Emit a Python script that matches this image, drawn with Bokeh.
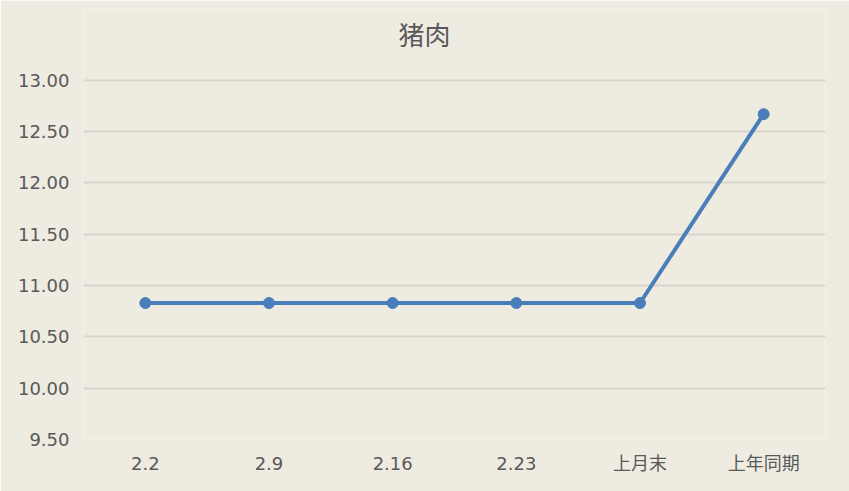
from bokeh.plotting import figure
from bokeh.models import FixedTicker, NumeralTickFormatter, Range1d, Label
from bokeh.embed import file_html
from bokeh.resources import INLINE

title_text = "猪肉"
categories = ["2.2", "2.9", "2.16", "2.23", "上月末", "上年同期"]
prices = [10.83, 10.83, 10.83, 10.83, 10.83, 12.67]
y_ticks = [9.5, 10.0, 10.5, 11.0, 11.5, 12.0, 12.5, 13.0]

BG = "#EEEBE1"
TXT = "#595959"
BLUE = "#4A7EBB"

# frame extends to near the top so the title label sits inside it;
# only ticks 9.50..13.00 are shown, the top of the range is blank headroom
p = figure(width=849, height=491, x_range=categories, y_range=Range1d(9.5, 13.70),
           output_backend="svg", toolbar_location=None,
           min_border_left=83, min_border_right=24, min_border_top=8, min_border_bottom=52)

p.background_fill_color = BG
p.border_fill_color = BG
p.outline_line_color = None

# screen units measured from the frame's lower-left corner
title = Label(x=341, y=406, x_units="screen", y_units="screen", text=title_text,
              text_align="center", text_baseline="middle",
              text_font="Noto Sans CJK SC", text_font_size="26px", text_color=TXT)
p.add_layout(title)

p.line(categories, prices, line_color=BLUE, line_width=4)
p.scatter(categories, prices, size=11, fill_color=BLUE, line_color=BLUE)

p.yaxis.ticker = FixedTicker(ticks=y_ticks)
p.yaxis.formatter = NumeralTickFormatter(format="0.00")
for ax in (p.xaxis, p.yaxis):
    ax.axis_line_color = None
    ax.major_tick_line_color = None
    ax.minor_tick_line_color = None
    ax.major_label_text_color = TXT
    ax.major_label_text_font = "DejaVu Sans, Noto Sans CJK SC"
    ax.major_label_text_font_size = "18px"
p.yaxis.major_label_standoff = 8
p.xaxis.major_label_standoff = 7

p.xgrid.grid_line_color = None
p.ygrid.grid_line_color = "#D8D5CD"
p.ygrid.grid_line_width = 2

open("out.html", "w").write(file_html(p, INLINE))
